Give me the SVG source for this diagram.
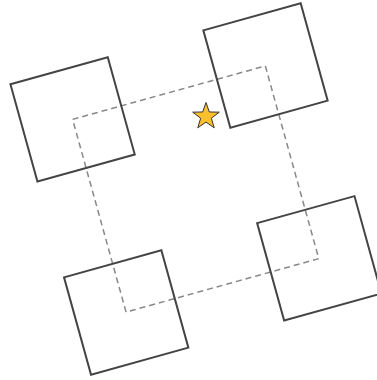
<svg xmlns="http://www.w3.org/2000/svg" width="377" height="380" viewBox="0 0 377 380">
  <style>
    .sq { fill: none; stroke: #444; stroke-width: 2; }
    .dash { fill: none; stroke: #888; stroke-width: 1.5; stroke-dasharray: 6 4; }
    .star { fill: #FBC02D; stroke: #333; stroke-width: 1; stroke-linejoin: miter; }
  </style>
  <rect width="377" height="380" fill="#fff"/>
  <g id="connectors">
    <rect class="dash" x="-100" y="-100" width="200" height="200" transform="translate(195.7 189) rotate(-15.5)"/>
  </g>
  <g id="node-tl">
    <rect class="sq" x="-50.5" y="-50.5" width="101" height="101" transform="translate(72.6 119.4) rotate(-15.5)"/>
  </g>
  <g id="node-tr">
    <rect class="sq" x="-50.5" y="-50.5" width="101" height="101" transform="translate(265.5 65.5) rotate(-15.5)"/>
  </g>
  <g id="node-bl">
    <rect class="sq" x="-50.5" y="-50.5" width="101" height="101" transform="translate(126.2 312.5) rotate(-15.5)"/>
  </g>
  <g id="node-br">
    <rect class="sq" x="-50.5" y="-50.5" width="101" height="101" transform="translate(319.3 258.3) rotate(-15.5)"/>
  </g>
  <g id="star">
    <polygon class="star" points="206,102.5 209.29,111.97 219.31,112.17 211.33,118.23 214.23,127.83 206,122.1 197.77,127.83 200.67,118.23 192.69,112.17 202.71,111.97"/>
  </g>
</svg>
